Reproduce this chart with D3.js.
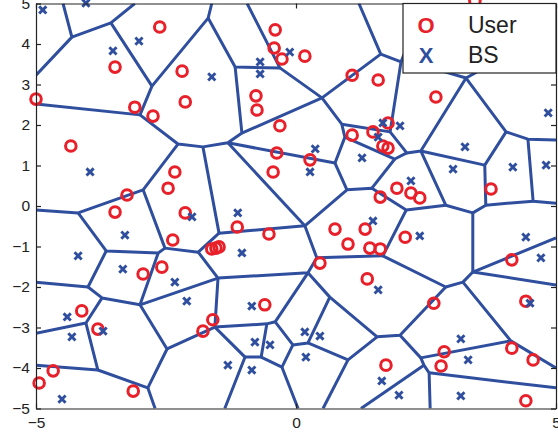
<!DOCTYPE html>
<html>
<head>
<meta charset="utf-8">
<script src="https://cdn.jsdelivr.net/npm/d3@7"></script>
<style>
  body { margin: 0; background: #fff; }
  text { font-family: "Liberation Sans", Arial, sans-serif; }
</style>
</head>
<body>
<div class="chart"></div>
<script>

  //////////
  // Data //
  //////////

  // users (red circles)
  var userX = [-2.62, -3.48, -2.19, -5.00, -3.10, -2.75, -2.13, -4.33, -0.40, -0.42,
               -0.27, 0.17, 1.08, 1.58, -0.77, -0.75, -0.31, 1.08, 1.48, 3.44,
               2.69, 1.77, 1.67, 1.77, -2.33, -2.46, -3.25, -3.48, -2.13, -2.37,
               -2.58, -2.94, -0.37, 0.27, -0.44, -1.13, -0.52, -1.62, -1.54, -1.48,
               0.75, 1.33, 1.00, 1.42, 1.62, 0.46, 1.37, 1.94, 2.21, 2.38,
               1.62, 3.75, 2.10, 4.15, -4.12, -3.81, -4.67, -4.94, -3.13, -1.79,
               -1.60, -0.60, 2.65, 4.42, 2.85, 2.79, 4.15, 4.56, 1.73, 4.42];
  var userY = [4.42, 3.43, 3.33, 2.64, 2.44, 2.22, 2.57, 1.48, 4.35, 3.90,
               3.63, 3.70, 3.23, 3.11, 2.72, 2.37, 1.98, 1.75, 1.83, 5.06,
               2.69, 2.05, 1.48, 1.43, 0.84, 0.44, 0.27, -0.15, -0.17, -0.84,
               -1.51, -1.68, 1.31, 1.14, 0.84, -0.52, -0.69, -1.06, -1.04, -1.01,
               -0.57, -0.57, -0.94, -1.04, -1.06, -1.41, -1.80, 0.44, 0.32, 0.20,
               0.22, 0.42, -0.77, -1.33, -2.59, -3.04, -4.07, -4.37, -4.57, -3.09,
               -2.81, -2.44, -2.40, -2.35, -3.60, -3.95, -3.51, -3.80, -3.93, -4.81];

  // base stations (blue crosses)
  var bsX = [-4.87, -4.04, -3.52, -3.02, -0.12, -0.69, -0.69, -1.62, 4.85, 3.25,
             1.67, 2.00, 1.58, 1.27, 0.37, 0.27, -3.96, -3.29, -4.19, -3.33,
             -2.33, -2.00, -1.12, -1.04, 3.02, 4.17, 4.81, 2.21, 1.48, 2.38,
             4.42, 4.71, 1.58, -4.40, -4.31, -3.71, -4.50, -2.10, -0.85, -0.79,
             -0.50, -1.31, -0.85, 0.17, 0.46, 0.19, 4.50, 3.17, 3.31, 1.65,
             1.98, 3.17];
  var bsY = [4.84, 5.01, 3.83, 4.07, 3.80, 3.56, 3.26, 3.19, 2.30, 1.46,
             2.05, 1.98, 1.70, 1.19, 1.41, 0.84, 0.84, -0.72, -1.23, -1.56,
             -1.88, -0.27, -0.17, -1.16, 0.91, 0.96, 1.01, 0.62, -0.37, -0.74,
             -0.77, -1.28, -2.07, -2.74, -3.23, -3.09, -4.77, -2.35, -2.47, -3.36,
             -3.43, -3.93, -4.05, -3.11, -3.21, -3.73, -2.40, -3.28, -3.80, -4.32,
             -4.67, -4.69];

  // cell borders, each one a chain of corners [x, y]
  var cellEdges = [
    [[-4.48, 5], [-4.31, 4.17], [-5, 3.23]],
    [[-4.31, 4.17], [-3.56, 4.52], [-3.10, 5]],
    [[-3.56, 4.52], [-2.77, 2.96], [-1.69, 4.64], [-1.62, 5]],
    [[-1.69, 4.64], [-1.17, 3.43], [-0.31, 3.41], [-0.94, 5]],
    [[-2.77, 2.96], [-3.00, 2.25], [-5, 2.52]],
    [[-3.00, 2.25], [-2.27, 1.53], [-1.79, 1.46], [-1.31, 1.56], [-1.04, 1.80], [-1.17, 3.43]],
    [[-2.27, 1.53], [-2.94, 0.40], [-4.19, -0.17], [-5, -0.10]],
    [[-1.79, 1.46], [-1.48, -0.67], [0.17, -0.49], [0.98, 0.40], [1.46, 0.44], [2.12, -0.10], [2.88, 0.02], [2.40, 1.36]],
    [[-1.31, 1.56], [0.17, -0.49]],
    [[-1.31, 1.56], [0.75, 1.06], [0.94, 1.70], [0.88, 2.02], [0.50, 2.67], [-0.31, 3.41]],
    [[-1.04, 1.80], [0.50, 2.67]],
    [[0.50, 2.67], [1.63, 3.75], [1.21, 5]],
    [[1.63, 3.75], [2.02, 3.56], [2.08, 3.75]],
    [[2.02, 3.56], [1.81, 1.83], [2.13, 1.31], [2.40, 1.36], [3.27, 3.16], [2.73, 3.36]],
    [[3.27, 3.16], [3.62, 3.41]],
    [[3.27, 3.16], [4.04, 1.83], [4.46, 1.65], [5, 1.63]],
    [[4.46, 1.65], [4.56, 0.12], [5, 0.07]],
    [[4.04, 1.83], [3.63, 1.01], [3.65, 0.02], [4.56, 0.12]],
    [[2.40, 1.36], [3.63, 1.01]],
    [[3.65, 0.02], [3.40, -0.17], [2.88, 0.02]],
    [[3.40, -0.17], [3.40, -1.63], [5, -0.79]],
    [[3.40, -1.63], [5, -1.95]],
    [[3.40, -1.63], [3.21, -1.88], [2.88, -2.00], [1.67, -1.23], [2.12, -0.10]],
    [[0.88, 2.02], [1.81, 1.83]],
    [[0.94, 1.70], [1.90, 1.16], [2.13, 1.31]],
    [[1.90, 1.16], [1.46, 0.44]],
    [[0.75, 1.06], [0.98, 0.40]],
    [[0.17, -0.49], [0.40, -1.28], [1.67, -1.23]],
    [[0.40, -1.28], [0.23, -1.65], [-1.50, -1.78], [-1.88, -1.14], [-1.48, -0.67]],
    [[-1.88, -1.14], [-2.52, -1.04], [-2.94, 0.40]],
    [[-2.52, -1.04], [-2.65, -1.16], [-3.65, -1.11], [-4.19, -0.17]],
    [[-3.65, -1.11], [-4.00, -2.00], [-5, -1.88]],
    [[-4.00, -2.00], [-3.73, -2.27], [-3.00, -2.44], [-2.65, -1.16]],
    [[-3.73, -2.27], [-4.04, -2.89], [-5, -3.14]],
    [[-4.04, -2.89], [-3.81, -4.05], [-5, -3.93]],
    [[-3.81, -4.05], [-2.85, -4.49], [-2.71, -5]],
    [[-2.85, -4.49], [-2.48, -3.53], [-3.00, -2.44]],
    [[-3.00, -2.44], [-1.50, -1.78]],
    [[-2.48, -3.53], [-1.56, -2.99], [-1.50, -1.78]],
    [[-1.56, -2.99], [-0.56, -2.91], [-0.40, -2.86], [0.23, -1.65]],
    [[-1.56, -2.99], [-0.98, -3.73], [-1.37, -5]],
    [[-0.98, -3.73], [-0.67, -3.73], [-0.56, -2.91]],
    [[-0.67, -3.73], [-0.27, -3.98], [0.04, -5]],
    [[-0.27, -3.98], [-0.06, -3.43], [-0.40, -2.86]],
    [[-0.06, -3.43], [0.23, -3.38], [0.65, -2.25]],
    [[0.23, -1.65], [0.65, -2.25], [1.56, -3.23], [2.00, -3.19], [2.88, -2.00]],
    [[1.56, -3.23], [1.00, -3.80], [0.23, -3.38]],
    [[1.00, -3.80], [0.52, -5]],
    [[2.00, -3.19], [2.40, -3.75], [4.13, -3.33], [3.21, -1.88]],
    [[4.13, -3.33], [5, -4.00]],
    [[2.40, -3.75], [2.46, -3.93], [2.56, -4.12], [2.58, -5]],
    [[2.46, -3.93], [1.25, -5]],
    [[2.56, -4.12], [5, -4.49]]
  ];

  var xTicks = [-5, 0, 5];
  var yTicks = [-5, -4, -3, -2, -1, 0, 1, 2, 3, 4, 5];
  var legendSymbols = ['O', 'X'];
  var legendLabels = ['User', 'BS'];

  var red = '#e8202a';
  var blue = '#2f4f9e';

  ////////////////
  // Build plot //
  ////////////////

  var svg = d3.select('.chart')
              .append('svg')
              .attr('width', 558)
              .attr('height', 436);

  var x = d3.scaleLinear().domain([-5, 5]).range([36, 556]);
  var y = d3.scaleLinear().domain([-5, 5]).range([408.5, 3.5]);

  svg.append('clipPath')
     .attr('id', 'plotArea')
     .append('rect')
     .attr('x', 36).attr('y', 3.5)
     .attr('width', 520).attr('height', 405);

  var line = d3.line()
               .x(function(d){ return x(d[0]); })
               .y(function(d){ return y(d[1]); });

  svg.append('g')
     .attr('clip-path', 'url(#plotArea)')
     .selectAll('path')
     .data(cellEdges)
     .enter().append('path')
     .attr('d', line)
     .attr('fill', 'none')
     .attr('stroke', blue)
     .attr('stroke-width', 3)
     .attr('stroke-linejoin', 'round');

  // users
  svg.append('g')
     .selectAll('circle')
     .data(userX)
     .enter().append('circle')
     .attr('cx', function(d){ return x(d); })
     .attr('cy', function(d, i){ return y(userY[i]); })
     .attr('r', 5.3)
     .attr('fill', 'none')
     .attr('stroke', red)
     .attr('stroke-width', 3);

  // base stations
  svg.append('g')
     .selectAll('path')
     .data(bsX)
     .enter().append('path')
     .attr('d', function(d, i){
       var cx = x(d), cy = y(bsY[i]), s = 3.6;
       return 'M' + (cx - s) + ',' + (cy - s) + 'L' + (cx + s) + ',' + (cy + s) +
              'M' + (cx - s) + ',' + (cy + s) + 'L' + (cx + s) + ',' + (cy - s);
     })
     .attr('stroke', blue)
     .attr('stroke-width', 2.9);

  //////////
  // Axes //
  //////////

  var fmt = d3.format('d');

  var axisL = svg.append('g')
     .attr('transform', 'translate(36,0)')
     .call(d3.axisLeft(y).tickValues(yTicks).tickFormat(fmt).tickSize(-5).tickSizeOuter(0).tickPadding(6));
  var axisR = svg.append('g')
     .attr('transform', 'translate(556,0)')
     .call(d3.axisRight(y).tickValues(yTicks).tickFormat('').tickSize(-5).tickSizeOuter(0));
  var axisB = svg.append('g')
     .attr('transform', 'translate(0,408.5)')
     .call(d3.axisBottom(x).tickValues(xTicks).tickFormat(fmt).tickSize(-5).tickSizeOuter(0).tickPadding(8));
  var axisT = svg.append('g')
     .attr('transform', 'translate(0,3.5)')
     .call(d3.axisTop(x).tickValues(xTicks).tickFormat('').tickSize(-5).tickSizeOuter(0));

  [axisL, axisR, axisB, axisT].forEach(function(ax){
    ax.attr('font-size', 15.5).attr('font-family', '"Liberation Sans", Arial, sans-serif');
    ax.selectAll('path, line').attr('stroke', '#222').attr('stroke-width', 1.2);
    ax.selectAll('text').attr('fill', '#222');
  });

  ////////////
  // Legend //
  ////////////

  var legend = svg.append('g');
  legend.append('rect')
        .attr('x', 403).attr('y', 3.5)
        .attr('width', 153).attr('height', 69.5)
        .attr('fill', '#fff')
        .attr('stroke', '#222')
        .attr('stroke-width', 1.2);

  legend.selectAll('.sym')
        .data(legendSymbols)
        .enter().append('text')
        .attr('class', 'sym')
        .attr('x', 426)
        .attr('y', function(d, i){ return 33 + i * 30; })
        .attr('text-anchor', 'middle')
        .attr('font-size', 22)
        .attr('font-weight', 'bold')
        .attr('fill', function(d, i){ return i === 0 ? red : blue; })
        .text(function(d){ return d; });

  legend.selectAll('.lab')
        .data(legendLabels)
        .enter().append('text')
        .attr('class', 'lab')
        .attr('x', 468)
        .attr('y', function(d, i){ return 33 + i * 30; })
        .attr('font-size', 23)
        .attr('fill', '#222')
        .text(function(d){ return d; });

</script>
</body>
</html>
